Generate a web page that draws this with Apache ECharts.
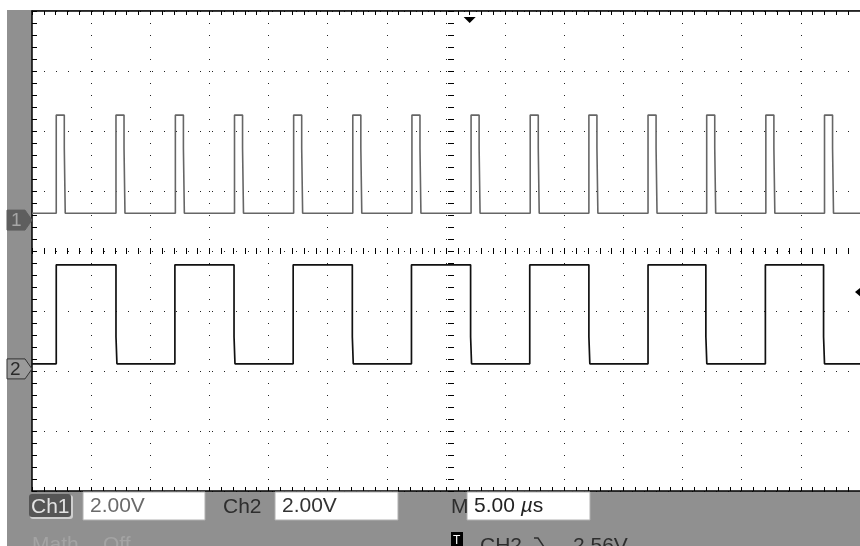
<!DOCTYPE html>
<html><head><meta charset="utf-8">
<script src="https://cdn.jsdelivr.net/npm/echarts@6/dist/echarts.min.js"></script>
<style>
html,body{margin:0;padding:0;background:#fff;overflow:hidden}
#bg{position:absolute;left:7px;top:10px;width:853px;height:536px;background:#909090}
#c{position:absolute;left:0;top:0;width:860px;height:546px}
</style></head><body>
<div id="bg"></div><div id="c"></div>
<script>
// ---- scales ----
const timeMin = -35, timeMax = 35, timeDiv = 5;      // µs, 5.00 µs/div
const voltMin = -8, voltMax = 8, voltDiv = 2;        // V, 2.00 V/div
// ---- channel screen positions (V) ----
const ch1Position = 1.03;
const ch2Position = -3.93;
// ---- CH1: narrow pulses, rising edges (µs) ----
const ch1Rises = [-32.95, -27.9, -22.88, -17.88, -12.88, -7.88, -2.88, 2.12, 7.12, 12.08, 17.08, 22.04, 27.04, 32.0];
const ch1Width = 0.68;
const ch1Low = 0.23, ch1High = 3.5, ch1FallStep = 2.4;
// ---- CH2: square wave, alternating edges (µs), first one rising ----
const ch2Edges = [-32.95, -27.9, -22.92, -17.92, -12.92, -7.92, -2.92, 2.08, 7.08, 12.08, 17.08, 21.97, 27.0, 31.92];
const ch2Low = 0.17, ch2High = 3.47, ch2FallStep = 1.07;
// ---- trigger ----
const triggerTime = 2.0;
const triggerLevel = 2.56;
// ---- status bar texts ----
const ch1Label = 'Ch1', ch1Scale = '2.00V';
const ch2Label = 'Ch2', ch2Scale = '2.00V';
const timeLabel = 'M', timeScale = '5.00 {i|µ}s';
const mathLabel = 'Math', mathState = 'Off';
const trigSource = 'CH2', trigLevelText = '2.56V';

const fallGap = 0.08;
function ch1Data() {
  const d = [[timeMin, ch1Low]];
  ch1Rises.forEach(r => {
    const f = r + ch1Width;
    d.push([r, ch1Low], [r, ch1High], [f, ch1High], [f, ch1FallStep], [f + fallGap, ch1FallStep], [f + fallGap, ch1Low]);
  });
  d.push([timeMax, ch1Low]);
  return d;
}
function ch2Data() {
  const d = [[timeMin, ch2Low]];
  ch2Edges.forEach((e, i) => {
    if (i % 2 === 0) d.push([e, ch2Low], [e, ch2High]);
    else d.push([e, ch2High], [e, ch2FallStep], [e + fallGap, ch2FallStep], [e + fallGap, ch2Low]);
  });
  d.push([timeMax, ch2Low]);
  return d;
}

const chart = echarts.init(document.getElementById('c'), null, {renderer: 'canvas'});
const black = '#000';
const dotted = {show: true, lineStyle: {color: '#222', width: 1, type: [1, 11], dashOffset: 0}};
const mainX = {
  type: 'value', min: timeMin, max: timeMax, interval: timeDiv,
  axisLine: {show: true, onZero: false, lineStyle: {color: black, width: 1.5}},
  axisTick: {show: true, inside: true, length: 4, lineStyle: {color: black}},
  minorTick: {show: true, splitNumber: 5, length: 4, lineStyle: {color: black}},
  axisLabel: {show: false}, minorSplitLine: {show: false}
};
const option = {
  animation: false,
  backgroundColor: 'transparent',
  grid: {left: 32, top: 11, width: 840, height: 480, show: true, backgroundColor: '#fff', borderWidth: 0},
  xAxis: [
    Object.assign({}, mainX, {position: 'bottom', splitLine: dotted}),
    Object.assign({}, mainX, {position: 'top', splitLine: {show: false}}),
    {type: 'value', min: timeMin, max: timeMax, interval: timeDiv / 5, position: 'bottom', offset: -237,
     axisLine: {show: false, onZero: false}, axisTick: {show: true, inside: true, length: 6, lineStyle: {color: black}},
     axisLabel: {show: false}, splitLine: {show: false}}
  ],
  yAxis: [
    {type: 'value', min: voltMin, max: voltMax, interval: voltDiv, position: 'left',
     axisLine: {show: true, onZero: false, lineStyle: {color: black, width: 1.5}},
     axisTick: {show: true, inside: true, length: 5, lineStyle: {color: black}},
     minorTick: {show: true, splitNumber: 5, length: 5, lineStyle: {color: black}},
     axisLabel: {show: false}, splitLine: dotted, minorSplitLine: {show: false}},
    {type: 'value', min: voltMin, max: voltMax, interval: voltDiv / 5, position: 'left', offset: -416,
     axisLine: {show: false, onZero: false}, axisTick: {show: true, inside: true, length: 6, lineStyle: {color: black}},
     axisLabel: {show: false}, splitLine: {show: false}},
    {type: 'value', show: false, min: voltMin - ch1Position, max: voltMax - ch1Position},
    {type: 'value', show: false, min: voltMin - ch2Position, max: voltMax - ch2Position}
  ],
  series: [
    {name: 'CH1', type: 'line', xAxisIndex: 0, yAxisIndex: 2, data: ch1Data(), showSymbol: false,
     lineStyle: {color: '#666', width: 1.6}, z: 5},
    {name: 'CH2', type: 'line', xAxisIndex: 0, yAxisIndex: 3, data: ch2Data(), showSymbol: false,
     lineStyle: {color: '#111', width: 1.7}, z: 6}
  ]
};
chart.setOption(option);

const y1 = chart.convertToPixel({yAxisIndex: 2}, 0);
const y2 = chart.convertToPixel({yAxisIndex: 3}, 0);
const xt = chart.convertToPixel({xAxisIndex: 0}, triggerTime);
const yt = chart.convertToPixel({yAxisIndex: 3}, triggerLevel);
const font = '"Liberation Sans", Arial, sans-serif';
function txt(x, y, text, size, color, extra) {
  return {type: 'text', x: x, y: y, z: 110,
    style: Object.assign({text: text, fill: color, fontSize: size, fontFamily: font, verticalAlign: 'middle', align: 'left'}, extra || {})};
}
function pent(y, fill, stroke) {
  return {type: 'polygon', z: 100, shape: {points: [[7, y - 10], [25, y - 10], [32, y], [25, y + 10], [7, y + 10]]},
    style: {fill: fill, stroke: stroke, lineWidth: 1}};
}
const g = [
  pent(y1, '#5e5e5e', '#5e5e5e'),
  txt(11, y1 + 1, '1', 19, '#a6a6a6'),
  pent(y2, '#9a9a9a', '#333'),
  txt(10, y2 + 1, '2', 19, '#2a2a2a'),
  {type: 'polygon', z: 100, shape: {points: [[xt - 6, 17], [xt + 6, 17], [xt, 23]]}, style: {fill: '#000'}},
  {type: 'polygon', z: 100, shape: {points: [[861, yt - 5], [855, yt], [861, yt + 5]]}, style: {fill: '#000'}},
  // status row 1
  {type: 'rect', z: 100, shape: {x: 30, y: 495, width: 43, height: 24, r: 3}, style: {fill: '#cfcfcf'}},
  {type: 'rect', z: 101, shape: {x: 29, y: 494, width: 42, height: 23, r: 3}, style: {fill: '#555'}},
  txt(31, 507, ch1Label, 21, '#e2e2e2'),
  {type: 'rect', z: 100, shape: {x: 83, y: 492, width: 122, height: 28}, style: {fill: '#fff', stroke: '#b0b0b0'}},
  txt(90, 506, ch1Scale, 21, '#6a6a6a'),
  txt(223, 507, ch2Label, 21, '#2e2e2e'),
  {type: 'rect', z: 100, shape: {x: 275, y: 492, width: 123, height: 28}, style: {fill: '#fff', stroke: '#b0b0b0'}},
  txt(282, 506, ch2Scale, 21, '#333'),
  txt(451, 507, timeLabel, 21, '#2e2e2e'),
  {type: 'rect', z: 100, shape: {x: 467, y: 492, width: 123, height: 28}, style: {fill: '#fff', stroke: '#b0b0b0'}},
  txt(474, 506, timeScale, 21, '#222', {rich: {i: {fontStyle: 'italic', fontSize: 21, fontFamily: font, fill: '#222'}}}),
  // status row 2
  txt(32, 545, mathLabel, 21, '#a4a4a4'),
  txt(103, 545, mathState, 21, '#a4a4a4'),
  {type: 'rect', z: 100, shape: {x: 451, y: 532, width: 12, height: 16}, style: {fill: '#000'}},
  txt(453, 541, 'T', 12, '#fff'),
  txt(480, 546, trigSource, 21, '#2e2e2e'),
  {type: 'polyline', z: 100, shape: {points: [[534, 538], [538, 538], [544, 547]]}, style: {stroke: '#2e2e2e', lineWidth: 1.5, fill: null}},
  txt(573, 546, trigLevelText, 21, '#2e2e2e')
];
chart.setOption({graphic: {elements: g}});
</script>
</body></html>
